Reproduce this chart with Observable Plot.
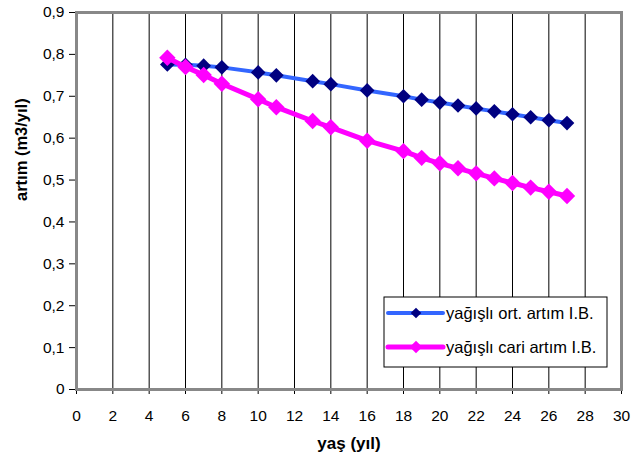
<!DOCTYPE html>
<html>
<head>
<meta charset="utf-8">
<script src="https://cdn.jsdelivr.net/npm/d3@7"></script>
<script src="https://cdn.jsdelivr.net/npm/@observablehq/plot@0.6"></script>
<style>
  html, body { margin: 0; padding: 0; background: #fff; }
  #chart { position: relative; width: 631px; height: 464px; }
  svg { font-family: "Liberation Sans", Arial, sans-serif; }
</style>
</head>
<body>
<div id="chart"></div>
<script>
// ---- data ----
const ages = [5, 6, 7, 8, 10, 11, 13, 14, 16, 18, 19, 20, 21, 22, 23, 24, 25, 26, 27];
const ortArtim = [0.776, 0.775, 0.773, 0.769, 0.757, 0.750, 0.736, 0.729, 0.714, 0.700, 0.692, 0.685, 0.678, 0.671, 0.664, 0.657, 0.650, 0.643, 0.636];
const cariArtim = [0.792, 0.770, 0.751, 0.730, 0.693, 0.674, 0.641, 0.626, 0.594, 0.569, 0.553, 0.540, 0.528, 0.516, 0.504, 0.493, 0.482, 0.472, 0.462];
const seriesNames = ["yağışlı ort. artım I.B.", "yağışlı cari artım I.B."];
const xTicks = [0, 2, 4, 6, 8, 10, 12, 14, 16, 18, 20, 22, 24, 26, 28, 30];
const yTicks = [0, 0.1, 0.2, 0.3, 0.4, 0.5, 0.6, 0.7, 0.8, 0.9];
const gridX = [2, 4, 6, 8, 10, 12, 14, 16, 18, 20, 22, 24, 26, 28];
const xTitle = "yaş (yıl)";
const yTitle = "artım (m3/yıl)";

const ort = ages.map((a, i) => ({age: a, v: ortArtim[i]}));
const cari = ages.map((a, i) => ({age: a, v: cariArtim[i]}));

const styles = [
  {line: "#3366ff", lineW: 4, dot: "#000080", r: 6.6},
  {line: "#ff00ff", lineW: 5, dot: "#ff00ff", r: 7.4}
];

const fmt = d => d === 0 ? "0" : String(+d.toFixed(1)).replace(".", ",");

const plot = Plot.plot({
  width: 631,
  height: 464,
  marginLeft: 76,
  marginRight: 10,
  marginTop: 12,
  marginBottom: 75,
  style: {fontFamily: "'Liberation Sans', Arial, sans-serif", fontSize: "15.5px", color: "#000", background: "#fff"},
  x: {domain: [0, 30], ticks: xTicks, tickFormat: d => String(d), tickSize: 5, tickPadding: 15, label: null},
  y: {domain: [0, 0.9], ticks: yTicks, tickFormat: fmt, tickSize: 7, tickPadding: 5, label: null},
  marks: [
    Plot.ruleX(gridX, {stroke: "#000", strokeWidth: 1}),
    Plot.frame({stroke: "#888", strokeWidth: 3}),
    Plot.line(ort, {x: "age", y: "v", stroke: styles[0].line, strokeWidth: styles[0].lineW}),
    Plot.dot(ort, {x: "age", y: "v", symbol: "diamond2", r: styles[0].r, fill: styles[0].dot, stroke: "none"}),
    Plot.line(cari, {x: "age", y: "v", stroke: styles[1].line, strokeWidth: styles[1].lineW}),
    Plot.dot(cari, {x: "age", y: "v", symbol: "diamond2", r: styles[1].r, fill: styles[1].dot, stroke: "none"}),
    Plot.text([xTitle], {frameAnchor: "bottom", dy: 59, text: d => d, fontWeight: "bold", fontSize: 17}),
    Plot.text([yTitle], {frameAnchor: "left", dx: -55, rotate: -90, text: d => d, fontWeight: "bold", fontSize: 16.5})
  ]
});

document.getElementById("chart").appendChild(plot);

// ---- legend (inside plot area) ----
const svg = d3.select(plot);
const lg = svg.append("g").attr("transform", "translate(384,297)");
lg.append("rect").attr("width", 223).attr("height", 70).attr("fill", "#fff").attr("stroke", "#000").attr("stroke-width", 1);
const sym = d3.symbol().type(d3.symbolDiamond2);
seriesNames.forEach((name, i) => {
  const y = 16 + i * 34;
  const s = styles[i];
  lg.append("line").attr("x1", 4).attr("x2", 59).attr("y1", y).attr("y2", y)
    .attr("stroke", s.line).attr("stroke-width", s.lineW).attr("stroke-linecap", "round");
  lg.append("path").attr("d", sym.size(Math.PI * (s.r - 1.8) ** 2)()).attr("transform", `translate(32,${y})`).attr("fill", s.dot);
  lg.append("text").attr("x", 62).attr("y", y).attr("dy", "0.35em").attr("text-anchor", "start")
    .attr("font-size", 16.5).attr("fill", "#000").text(name);
});
</script>
</body>
</html>
